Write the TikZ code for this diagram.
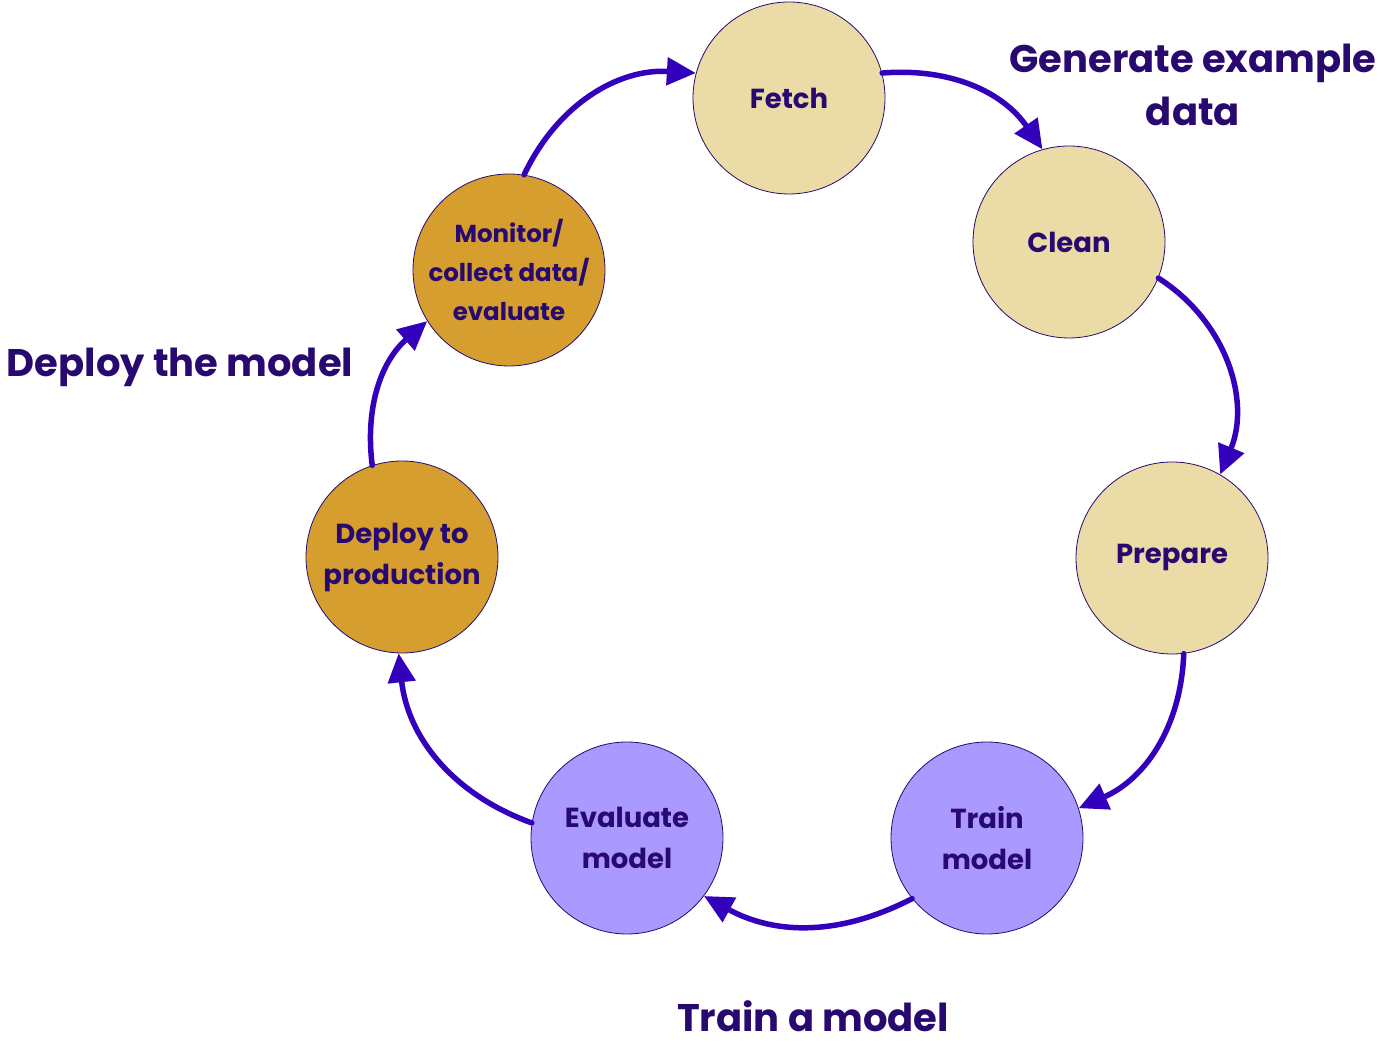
\documentclass[tikz,border=0pt]{standalone}
\usepackage{fontspec}
\setmainfont{Poppins}
\usetikzlibrary{arrows.meta}
\definecolor{txt}{HTML}{27096F}
\definecolor{arr}{HTML}{3300BB}
\definecolor{beige}{HTML}{EBDCA7}
\definecolor{gold}{HTML}{D69E2E}
\definecolor{lav}{HTML}{AA99FF}
\tikzset{
  stage/.style={circle, draw=txt, line width=0.8pt, minimum size=192pt, inner sep=0pt,
    align=center, text=txt, font=\bfseries\fontsize{27.5}{41}\selectfont},
  flow/.style={draw=arr, line width=5.5pt, line cap=round, -{Triangle[length=29pt,width=27pt]}},
  phase/.style={text=txt, align=center, font=\bfseries\fontsize{38.5}{53}\selectfont}
}
\begin{document}
\begin{tikzpicture}[x=1pt,y=1pt]
\useasboundingbox (0,0) rectangle (1391,1044);
\node[stage, fill=beige] (fetch) at (789,946) {Fetch};
\node[stage, fill=beige] (clean) at (1069,802) {Clean};
\node[stage, fill=beige] (prep) at (1172,486) {Prepare};
\node[stage, fill=lav] (train) at (987,206) {Train\\model};
\node[stage, fill=lav] (eval) at (627,206) {Evaluate\\model};
\node[stage, fill=gold] (deploy) at (402,487) {Deploy to\\production};
\node[stage, fill=gold, font=\bfseries\fontsize{24.5}{39}\selectfont] (mon) at (509,774) {Monitor/\\collect data/\\evaluate};
\node[phase] (gen) at (1193,959) {Generate example\\data};
\node[phase] (dep) at (180,677) {Deploy the model};
\node[phase] (trn) at (813,28) {Train a model};
\draw[flow] (fetch.15) to[bend left=30] (clean.106);
\draw[flow] (clean.-22) to[bend left=40] (prep.60);
\draw[flow] (prep.-83) to[bend left=32] (train.18);
\draw[flow] (train.-141) to[bend left=28] (eval.-37);
\draw[flow] (eval.171) to[bend left=32] (deploy.-92);
\draw[flow] (deploy.108) to[bend left=28] (mon.-148);
\draw[flow] (mon.81) to[bend left=34] (fetch.165);
\end{tikzpicture}
\end{document}
